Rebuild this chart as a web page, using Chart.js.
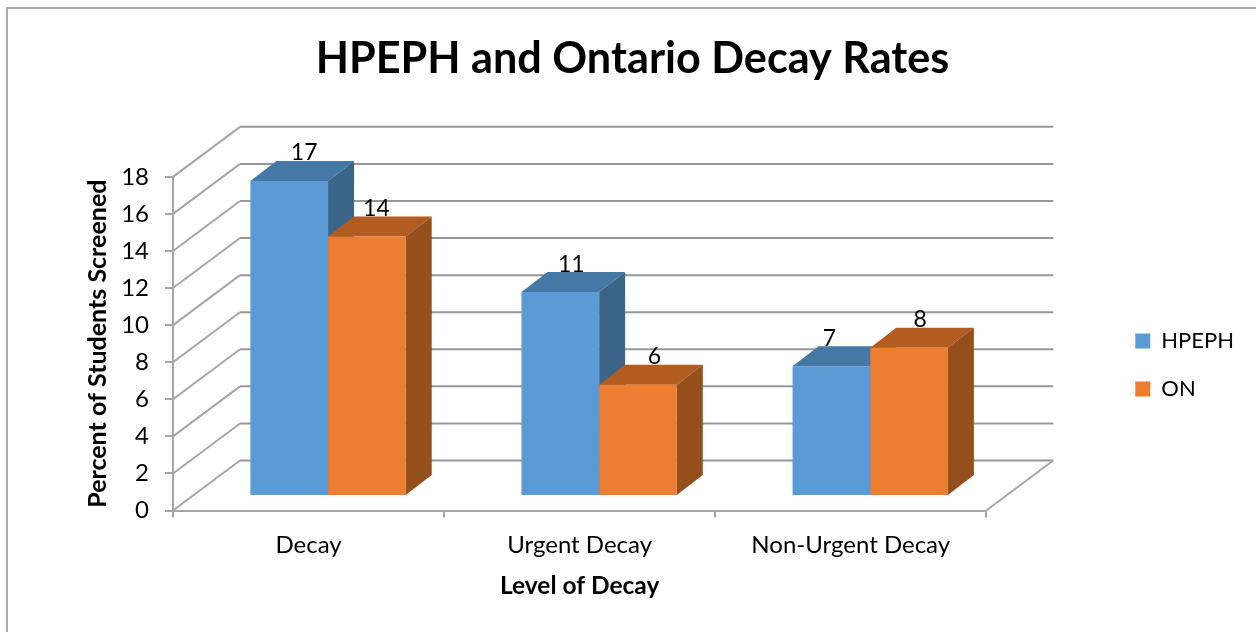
<!DOCTYPE html>
<html>
<head>
<meta charset="utf-8">
<style>html,body{margin:0;padding:0;background:#fff}canvas{display:block}</style>
<script src="https://cdn.jsdelivr.net/npm/chart.js@4"></script>
</head>
<body>
<canvas id="c" width="1256" height="632"></canvas>
<script>
const categories = ['Decay', 'Urgent Decay', 'Non-Urgent Decay'];
const seriesNames = ['HPEPH', 'ON'];
const hpephValues = [17, 11, 7];
const onValues = [14, 6, 8];
const titleText = 'HPEPH and Ontario Decay Rates';
const xTitle = 'Level of Decay';
const yTitle = 'Percent of Students Screened';

const FONT = 'Lato, Carlito, Calibri, sans-serif';
const wall = {dx: 67, dy: -50};
const barShift = {dx: 19.5, dy: -14.5};
const barDepth = {dx: 26, dy: -20};
const faces = [{top: '#4678A5', side: '#3A6488'}, {top: '#B35C22', side: '#954F1C'}];
const labelNudge = [[15, 11, -2], [9.5, 16.5, 11]];

function poly(ctx, pts, fill) {
  ctx.beginPath();
  pts.forEach((p, i) => i ? ctx.lineTo(p[0], p[1]) : ctx.moveTo(p[0], p[1]));
  ctx.closePath();
  ctx.fillStyle = fill;
  ctx.fill();
}

const frame3d = {
  id: 'frame3d',
  afterLayout(chart) {
    const lg = chart.legend;
    lg.left -= 12; lg.right -= 12;
    lg.top += 49; lg.bottom += 49;
  },
  beforeDraw(chart) {
    const ctx = chart.ctx;
    ctx.save();
    ctx.strokeStyle = '#ababab';
    ctx.lineWidth = 2;
    ctx.beginPath();
    ctx.moveTo(7, 632); ctx.lineTo(7, 8); ctx.lineTo(1256, 8);
    ctx.stroke();
    ctx.restore();
  },
  beforeDatasetsDraw(chart) {
    const ctx = chart.ctx, y = chart.scales.y, a = chart.chartArea;
    ctx.save();
    ctx.lineWidth = 2;
    y.ticks.forEach(t => {
      const py = y.getPixelForValue(t.value);
      ctx.strokeStyle = '#a6a6a6';
      ctx.beginPath();
      ctx.moveTo(a.left, py); ctx.lineTo(a.left + wall.dx, py + wall.dy);
      ctx.stroke();
      ctx.strokeStyle = '#979797';
      ctx.beginPath();
      ctx.moveTo(a.left + wall.dx, py + wall.dy); ctx.lineTo(a.right + wall.dx, py + wall.dy);
      ctx.stroke();
    });
    ctx.strokeStyle = '#a6a6a6';
    ctx.beginPath();
    ctx.moveTo(a.right, a.bottom); ctx.lineTo(a.right + wall.dx, a.bottom + wall.dy);
    ctx.stroke();
    // top and side faces of each bar, back to front
    chart.data.datasets.forEach((ds, i) => {
      chart.getDatasetMeta(i).data.forEach(b => {
        const l = b.x - b.width / 2 + barShift.dx, r = b.x + b.width / 2 + barShift.dx;
        const t = b.y + barShift.dy, g = b.base + barShift.dy;
        const d = barDepth;
        poly(ctx, [[l, t], [l + d.dx, t + d.dy], [r + d.dx, t + d.dy], [r, t]], faces[i].top);
        poly(ctx, [[r, t], [r + d.dx, t + d.dy], [r + d.dx, g + d.dy], [r, g]], faces[i].side);
      });
    });
    ctx.restore();
    ctx.save();
    ctx.translate(barShift.dx, barShift.dy);
  },
  afterDatasetsDraw(chart) {
    const ctx = chart.ctx;
    ctx.restore();
    ctx.save();
    ctx.font = '23px ' + FONT;
    ctx.fillStyle = '#000';
    ctx.textAlign = 'center';
    ctx.textBaseline = 'middle';
    chart.data.datasets.forEach((ds, i) => {
      chart.getDatasetMeta(i).data.forEach((b, j) => {
        ctx.fillText(String(ds.data[j]), b.x + barShift.dx + labelNudge[i][j], b.y + barShift.dy - 28);
      });
    });
    ctx.restore();
  }
};

new Chart(document.getElementById('c'), {
  type: 'bar',
  data: {
    labels: categories,
    datasets: [
      {label: seriesNames[0], data: hpephValues, backgroundColor: '#5B9BD5'},
      {label: seriesNames[1], data: onValues, backgroundColor: '#ED7D31'}
    ]
  },
  plugins: [frame3d],
  options: {
    responsive: false,
    animation: false,
    layout: {padding: {left: 9, right: 0, top: 0, bottom: 0}},
    datasets: {bar: {categoryPercentage: 0.573, barPercentage: 1}},
    plugins: {
      tooltip: {enabled: false},
      title: {
        display: true,
        text: titleText,
        color: '#000',
        font: {family: FONT, size: 43.2, weight: 'bold'},
        padding: {top: 33, bottom: 92}
      },
      legend: {
        position: 'right',
        labels: {
          boxWidth: 15, boxHeight: 15, padding: 26,
          color: '#000',
          font: {family: FONT, size: 22}
        }
      }
    },
    scales: {
      x: {
        grid: {drawOnChartArea: false, color: '#a6a6a6', lineWidth: 2, tickLength: 7},
        border: {color: '#a6a6a6', width: 2},
        ticks: {color: '#000', font: {family: FONT, size: 24}, padding: 13, maxRotation: 0},
        title: {display: true, text: xTitle, color: '#000', font: {family: FONT, size: 24.5, weight: 'bold'}, padding: {top: 0, bottom: 31.5}},
        afterFit(s) { s.height = 121.5; }
      },
      y: {
        min: 0, max: 18,
        grid: {drawOnChartArea: false, color: '#a6a6a6', lineWidth: 2, tickLength: 8},
        border: {color: '#a6a6a6', width: 2},
        ticks: {stepSize: 2, color: '#000', font: {family: FONT, size: 24}, padding: 16},
        title: {display: true, text: yTitle, color: '#000', font: {family: FONT, size: 25, weight: 'bold'}, padding: {top: 73.5, bottom: 0}},
        afterFit(s) { s.width = 164; }
      },
      spacer: {
        type: 'linear', position: 'right', display: true,
        grid: {display: false}, border: {display: false}, ticks: {display: false},
        afterFit(s) { s.width = 135; }
      }
    }
  }
});
</script>
</body>
</html>
